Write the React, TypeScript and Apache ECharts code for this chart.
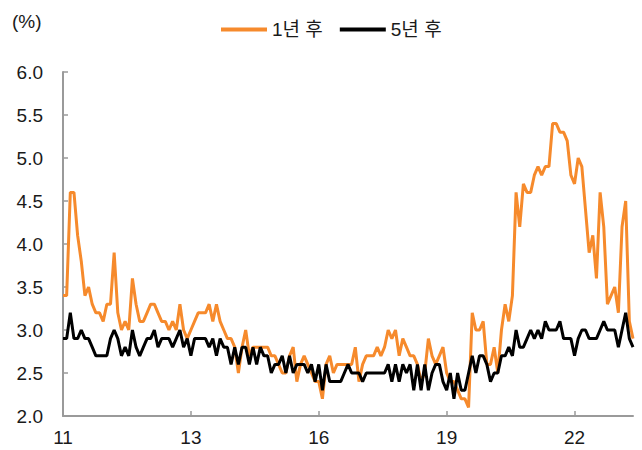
import React, { useEffect, useRef } from "react";
import * as echarts from "echarts";

// Monthly observations, Jan 2011 onward
const START_YEAR = 2011;
const SERIES_1Y_NAME = "1년 후";
const SERIES_5Y_NAME = "5년 후";

const oneYear: number[] = [
  3.4, 3.4, 4.6, 4.6, 4.1, 3.8, 3.4, 3.5, 3.3, 3.2, 3.2, 3.1,
  3.3, 3.3, 3.9, 3.2, 3.0, 3.1, 3.0, 3.6, 3.3, 3.1, 3.1, 3.2,
  3.3, 3.3, 3.2, 3.1, 3.1, 3.0, 3.1, 3.0, 3.3, 3.0, 2.9, 3.0,
  3.1, 3.2, 3.2, 3.2, 3.3, 3.1, 3.3, 3.1, 3.0, 2.9, 2.9, 2.8,
  2.5, 2.8, 3.0, 2.7, 2.8, 2.8, 2.8, 2.8, 2.8, 2.7, 2.7, 2.6,
  2.5, 2.5, 2.7, 2.8, 2.4, 2.6, 2.7, 2.6, 2.5, 2.4, 2.4, 2.2,
  2.6, 2.7, 2.5, 2.6, 2.6, 2.6, 2.6, 2.6, 2.8, 2.4, 2.6, 2.7,
  2.7, 2.7, 2.8, 2.7, 2.8, 3.0, 2.9, 3.0, 2.7, 2.9, 2.8, 2.7,
  2.7, 2.6, 2.4, 2.5, 2.9, 2.7, 2.6, 2.7, 2.8, 2.5, 2.4, 2.4,
  2.3, 2.2, 2.2, 2.1, 3.2, 3.0, 3.0, 3.1, 2.6, 2.6, 2.8, 2.5,
  3.0, 3.3, 3.1, 3.4, 4.6, 4.2, 4.7, 4.6, 4.6, 4.8, 4.9, 4.8,
  4.9, 4.9, 5.4, 5.4, 5.3, 5.3, 5.2, 4.8, 4.7, 5.0, 4.9, 4.4,
  3.9, 4.1, 3.6, 4.6, 4.2, 3.3, 3.4, 3.5, 3.2, 4.2, 4.5, 3.1,
  2.9,
];

const fiveYear: number[] = [
  2.9, 2.9, 3.2, 2.9, 2.9, 3.0, 2.9, 2.9, 2.8, 2.7, 2.7, 2.7,
  2.7, 2.9, 3.0, 2.9, 2.7, 2.8, 2.7, 3.0, 2.8, 2.7, 2.8, 2.9,
  2.9, 3.0, 2.8, 2.9, 2.9, 2.9, 2.8, 2.9, 3.0, 2.8, 2.9, 2.7,
  2.9, 2.9, 2.9, 2.9, 2.8, 2.9, 2.7, 2.9, 2.8, 2.8, 2.6, 2.8,
  2.6, 2.8, 2.8, 2.6, 2.8, 2.6, 2.8, 2.7, 2.7, 2.5, 2.6, 2.6,
  2.7, 2.5, 2.7, 2.5, 2.6, 2.6, 2.6, 2.5, 2.6, 2.4, 2.6, 2.3,
  2.6, 2.4, 2.4, 2.4, 2.4, 2.5, 2.6, 2.5, 2.5, 2.5, 2.4, 2.5,
  2.5, 2.5, 2.5, 2.5, 2.5, 2.6, 2.4, 2.6, 2.4, 2.6, 2.5, 2.6,
  2.3, 2.6, 2.3, 2.6, 2.3, 2.5, 2.6, 2.6, 2.4, 2.3, 2.5, 2.2,
  2.5, 2.3, 2.3, 2.5, 2.7, 2.5, 2.7, 2.7, 2.6, 2.4, 2.5, 2.5,
  2.7, 2.7, 2.8, 2.7, 3.0, 2.8, 2.8, 2.9, 3.0, 2.9, 3.0, 2.9,
  3.1, 3.0, 3.0, 3.0, 3.1, 2.9, 2.9, 2.9, 2.7, 2.9, 3.0, 3.0,
  2.9, 2.9, 2.9, 3.0, 3.1, 3.0, 3.0, 3.0, 2.8, 3.0, 3.2, 2.9,
  2.8,
];

// Category labels "YY.MM"
const months: string[] = oneYear.map((_, i) => {
  const y = START_YEAR + Math.floor(i / 12);
  const m = (i % 12) + 1;
  return `${String(y).slice(2)}.${m < 10 ? "0" + m : m}`;
});

const Y_MIN = 2;
const Y_MAX = 6;
const Y_STEP = 0.5;
const LABEL_INTERVAL = 34;

const FONT = "'Liberation Sans', Arial, 'Noto Sans CJK KR', sans-serif";
const ORANGE = "#F68A2C";
const AXIS_GRAY = "#9a9a9a";
const TEXT = "#1a1a1a";

export default function App() {
  const ref = useRef<HTMLDivElement>(null);
  useEffect(() => {
    if (!ref.current) return;
    const chart = echarts.init(ref.current, undefined, { renderer: "svg" });
    chart.setOption({
      animation: false,
      backgroundColor: "#ffffff",
      textStyle: { fontFamily: FONT },
      graphic: [
        {
          type: "text",
          left: 12,
          top: 12,
          style: { text: "(%)", fontSize: 19, fill: TEXT, fontFamily: FONT },
        },
      ],
      legend: {
        left: 216,
        top: 15,
        icon: "rect",
        itemWidth: 46,
        itemHeight: 4,
        itemGap: 17,
        textStyle: { fontSize: 19, color: TEXT, fontFamily: FONT },
        data: [SERIES_1Y_NAME, SERIES_5Y_NAME],
      },
      grid: { left: 63, right: 9, top: 72, bottom: 34, containLabel: false },
      xAxis: {
        type: "category",
        data: months,
        boundaryGap: false,
        axisLine: { lineStyle: { color: AXIS_GRAY, width: 2 } },
        axisTick: {
          inside: true,
          length: 5,
          interval: LABEL_INTERVAL,
          lineStyle: { color: AXIS_GRAY, width: 1.5 },
        },
        axisLabel: {
          interval: LABEL_INTERVAL,
          margin: 12,
          fontSize: 19,
          color: TEXT,
          fontFamily: FONT,
          formatter: (v: string) => v.split(".")[0],
        },
        splitLine: { show: false },
      },
      yAxis: {
        type: "value",
        min: Y_MIN,
        max: Y_MAX,
        interval: Y_STEP,
        axisLine: { show: true, lineStyle: { color: AXIS_GRAY, width: 2 } },
        axisTick: { show: true, inside: true, length: 5, lineStyle: { color: AXIS_GRAY, width: 1.5 } },
        axisLabel: {
          margin: 20,
          fontSize: 19,
          color: TEXT,
          fontFamily: FONT,
          formatter: (v: number) => v.toFixed(1),
        },
        splitLine: { show: false },
      },
      series: [
        {
          name: SERIES_1Y_NAME,
          type: "line",
          data: oneYear,
          symbol: "none",
          color: ORANGE,
          lineStyle: { color: ORANGE, width: 3 },
        },
        {
          name: SERIES_5Y_NAME,
          type: "line",
          data: fiveYear,
          symbol: "none",
          color: "#000000",
          lineStyle: { color: "#000000", width: 3 },
        },
      ],
    });
    return () => chart.dispose();
  }, []);
  return <div ref={ref} style={{ width: 642, height: 450, position: "absolute", left: 0, top: 0 }} />;
}
